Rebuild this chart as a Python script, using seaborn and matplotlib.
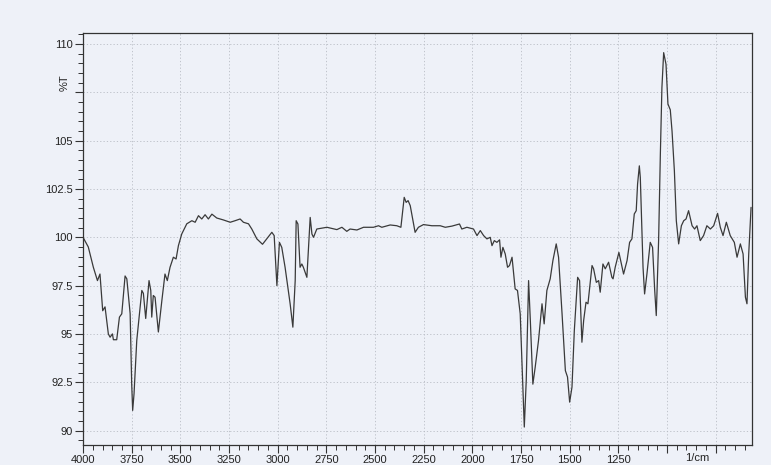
import matplotlib
matplotlib.use("Agg")
import matplotlib.pyplot as plt
from matplotlib.ticker import MultipleLocator, FixedLocator
import seaborn as sns
import pandas as pd

wavenumber = [4000, 3973, 3947, 3926, 3913, 3899, 3887, 3870, 3861, 3849, 3844, 3827,
              3813, 3801, 3784, 3775, 3758, 3750, 3745, 3738, 3724, 3698, 3690, 3678,
              3661, 3652, 3647, 3639, 3630, 3613, 3595, 3579, 3567, 3553, 3536, 3522,
              3510, 3493, 3467, 3441, 3424, 3407, 3390, 3373, 3356, 3338, 3313, 3279,
              3244, 3219, 3193, 3176, 3150, 3133, 3107, 3078, 3056, 3030, 3018, 3004,
              2991, 2979, 2962, 2936, 2922, 2910, 2905, 2896, 2885, 2876, 2868, 2850,
              2833, 2824, 2816, 2799, 2747, 2696, 2670, 2645, 2628, 2593, 2559, 2508,
              2482, 2465, 2422, 2388, 2367, 2350, 2340, 2330, 2319, 2305, 2294, 2277,
              2251, 2208, 2165, 2139, 2105, 2066, 2054, 2028, 1994, 1976, 1959, 1942,
              1925, 1908, 1899, 1887, 1874, 1860, 1853, 1843, 1831, 1819, 1809, 1796,
              1780, 1768, 1754, 1745, 1733, 1723, 1711, 1702, 1689, 1677, 1660, 1642,
              1631, 1617, 1600, 1586, 1569, 1557, 1539, 1522, 1511, 1500, 1488, 1476,
              1459, 1449, 1437, 1428, 1416, 1406, 1385, 1377, 1363, 1351, 1343, 1329,
              1317, 1300, 1283, 1277, 1266, 1247, 1223, 1205, 1192, 1180, 1168, 1158,
              1151, 1142, 1137, 1123, 1115, 1103, 1086, 1074, 1063, 1055, 1043, 1034,
              1026, 1017, 1005, 995, 983, 974, 962, 952, 940, 926, 914, 902,
              889, 871, 858, 846, 829, 812, 795, 777, 760, 740, 726, 712,
              695, 675, 654, 640, 623, 609, 597, 589, 580, 568]

transmittance = [100.0, 99.5, 98.45, 97.76, 98.1, 96.2, 96.4, 95.0, 94.83, 95.0, 94.7, 94.7,
                 95.87, 96.04, 98.0, 97.85, 96.05, 92.4, 91.04, 91.9, 94.66, 97.25, 97.1, 95.8,
                 97.76, 97.25, 95.87, 96.99, 96.9, 95.1, 96.73, 98.1, 97.76, 98.45, 98.97, 98.88,
                 99.57, 100.17, 100.7, 100.86, 100.78, 101.12, 100.95, 101.17, 100.95, 101.2, 101.0, 100.9,
                 100.78, 100.86, 100.95, 100.78, 100.7, 100.43, 99.92, 99.64, 99.92, 100.26, 100.09, 97.5,
                 99.74, 99.48, 98.45, 96.56, 95.35, 97.76, 100.86, 100.69, 98.45, 98.62, 98.45, 97.93,
                 101.03, 100.17, 100.0, 100.43, 100.52, 100.4, 100.52, 100.31, 100.43, 100.38, 100.52, 100.52,
                 100.6, 100.52, 100.64, 100.6, 100.52, 102.07, 101.81, 101.9, 101.64, 100.86, 100.26, 100.52,
                 100.66, 100.6, 100.6, 100.52, 100.58, 100.69, 100.43, 100.52, 100.43, 100.09, 100.35, 100.09,
                 99.92, 100.0, 99.57, 99.83, 99.74, 99.87, 98.97, 99.48, 99.14, 98.45, 98.54, 98.97,
                 97.33, 97.25, 96.04, 93.46, 90.18, 92.6, 97.76, 95.7, 92.4, 93.28, 94.66, 96.56,
                 95.52, 97.25, 97.85, 98.8, 99.66, 98.97, 96.04, 93.1, 92.77, 91.47, 92.25, 95.18,
                 97.93, 97.76, 94.57, 95.7, 96.64, 96.56, 98.54, 98.37, 97.67, 97.76, 97.16, 98.62,
                 98.37, 98.71, 97.93, 97.85, 98.45, 99.22, 98.1, 98.8, 99.74, 99.92, 101.21, 101.38,
                 102.76, 103.7, 103.1, 98.45, 97.07, 98.1, 99.74, 99.48, 97.25, 95.95, 99.83, 104.31,
                 107.75, 109.56, 108.96, 106.9, 106.6, 105.5, 103.45, 100.86, 99.66, 100.6, 100.86, 100.95,
                 101.38, 100.6, 100.43, 100.6, 99.83, 100.09, 100.6, 100.43, 100.6, 101.24, 100.52, 100.09,
                 100.78, 100.09, 99.74, 98.97, 99.66, 99.14, 96.9, 96.56, 99.14, 101.55]

y_ticks = [90, 92.5, 95, 97.5, 100, 102.5, 105, 107.5, 110]
y_labels = ["90", "92.5", "95", "97.5", "100", "102.5", "105", "", "110"]
x_ticks = [4000, 3750, 3500, 3250, 3000, 2750, 2500, 2250, 2000, 1750, 1500, 1250, 1000, 750]
x_labels = ["4000", "3750", "3500", "3250", "3000", "2750", "2500", "2250", "2000",
            "1750", "1500", "1250", "", ""]

df = pd.DataFrame({"wn": wavenumber, "T": transmittance})

sns.set_theme(style="white")
plt.rcParams["font.family"] = ["Liberation Sans", "DejaVu Sans"]

bg = "#eef1f8"
fig = plt.figure(figsize=(7.71, 4.65), dpi=100, facecolor=bg)
ax = fig.add_axes([0.1077, 0.043, 0.8677, 0.887])
ax.set_facecolor(bg)

sns.lineplot(data=df, x="wn", y="T", sort=False, color="#3a3a3a", linewidth=0.9, ax=ax)

ax.set_xlim(4000, 563)
ax.set_ylim(89.25, 110.6)

ax.xaxis.set_major_locator(FixedLocator(x_ticks))
ax.set_xticklabels(x_labels)
ax.xaxis.set_minor_locator(MultipleLocator(50))
ax.yaxis.set_major_locator(FixedLocator(y_ticks))
ax.set_yticklabels(y_labels)
ax.yaxis.set_minor_locator(MultipleLocator(0.5))

ax.tick_params(axis="both", which="major", direction="out", length=6, width=0.8,
               color="#333333", labelsize=8, labelcolor="#222222", pad=1.5)
ax.tick_params(axis="both", which="minor", direction="out", length=3.5, width=0.7,
               color="#333333")
ax.tick_params(axis="x", which="both", bottom=True)
ax.tick_params(axis="y", which="both", left=True)

ax.grid(True, which="major", linestyle=(0, (1.5, 2.5)), color="#b8bcc4", linewidth=0.6)
for s in ax.spines.values():
    s.set_color("#333333")
    s.set_linewidth(0.9)

ax.set_xlabel("")
ax.set_ylabel("")
ax.text(-0.028, 0.879, "%T", transform=ax.transAxes, rotation=90, fontsize=8,
        color="#222222", ha="center", va="center")
ax.text(844, -0.0325, "1/cm", transform=ax.get_xaxis_transform(), fontsize=8,
        color="#222222", ha="center", va="center")

fig.savefig("out.png", dpi=100, facecolor=bg)
